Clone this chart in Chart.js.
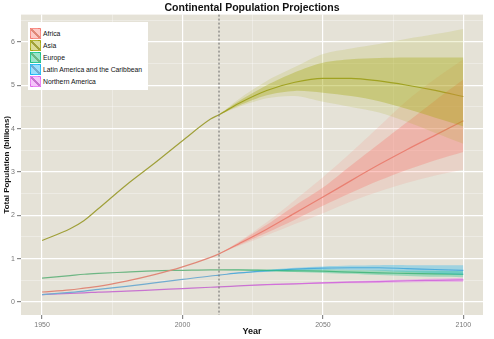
<!DOCTYPE html>
<html>
<head>
<meta charset="utf-8">
<script src="https://cdn.jsdelivr.net/npm/chart.js@4"></script>
<style>
  html, body { margin: 0; padding: 0; background: #fff; }
  #wrap { position: relative; width: 494px; height: 339px; }
  #legend {
    position: absolute; left: 28px; top: 22px; width: 120px; height: 68px;
    background: #fff; font-family: "Liberation Sans", Arial, sans-serif;
    font-size: 6.8px; color: #111; box-sizing: border-box; padding: 5px 0 0 2px;
    white-space: nowrap; overflow: hidden;
  }
  .item { display: flex; align-items: center; height: 12px; }
  .sw { flex: none; width: 11px; height: 11px; margin-right: 2px; box-sizing: border-box; border: 1px solid; }
</style>
</head>
<body>
<div id="wrap">
  <canvas id="chart" width="494" height="339"></canvas>
  <div id="legend"></div>
</div>
<script>
// Data (billions)
const regions = ['Africa', 'Asia', 'Europe', 'Latin America and the Caribbean', 'Northern America'];
const years = [1950, 1960, 1965, 1970, 1980, 1990, 2000, 2010, 2013, 2020, 2030, 2040, 2050, 2060, 2070, 2080, 2090, 2100];

const africa   = [0.23, 0.28, 0.32, 0.36, 0.48, 0.63, 0.81, 1.03, 1.11, 1.34, 1.68, 2.05, 2.42, 2.80, 3.17, 3.52, 3.85, 4.18];
const asia     = [1.42, 1.69, 1.88, 2.15, 2.70, 3.20, 3.72, 4.22, 4.32, 4.58, 4.88, 5.07, 5.16, 5.16, 5.10, 5.00, 4.88, 4.74];
const europe   = [0.55, 0.61, 0.64, 0.66, 0.69, 0.72, 0.73, 0.74, 0.74, 0.74, 0.73, 0.72, 0.71, 0.69, 0.67, 0.66, 0.65, 0.64];
const latinAm  = [0.17, 0.22, 0.25, 0.29, 0.36, 0.44, 0.52, 0.60, 0.62, 0.67, 0.72, 0.76, 0.78, 0.79, 0.79, 0.77, 0.75, 0.73];
const northAm  = [0.17, 0.20, 0.21, 0.23, 0.25, 0.28, 0.31, 0.34, 0.35, 0.37, 0.40, 0.42, 0.44, 0.46, 0.47, 0.49, 0.50, 0.51];

// projection intervals (80% and 95%)
const bandYears = [2013, 2020, 2030, 2040, 2050, 2060, 2070, 2080, 2090, 2100];

const africaHi80 = [1.11, 1.37, 1.78, 2.22, 2.64, 3.15, 3.65, 4.15, 4.65, 5.13];
const africaLo80 = [1.11, 1.31, 1.60, 1.90, 2.22, 2.52, 2.80, 3.05, 3.27, 3.46];
const africaHi95 = [1.11, 1.39, 1.84, 2.35, 2.88, 3.45, 4.05, 4.65, 5.15, 5.60];
const africaLo95 = [1.11, 1.29, 1.54, 1.80, 2.05, 2.32, 2.55, 2.75, 2.92, 3.05];

const asiaHi80 = [4.32, 4.63, 5.00, 5.30, 5.52, 5.60, 5.63, 5.64, 5.64, 5.64];
const asiaLo80 = [4.32, 4.53, 4.77, 4.87, 4.83, 4.75, 4.63, 4.45, 4.25, 4.05];
const asiaHi95 = [4.32, 4.68, 5.10, 5.42, 5.72, 5.85, 5.95, 6.07, 6.18, 6.30];
const asiaLo95 = [4.32, 4.50, 4.70, 4.75, 4.62, 4.50, 4.37, 4.15, 3.90, 3.65];

const europeHi = [0.74, 0.75, 0.75, 0.75, 0.75, 0.74, 0.73, 0.72, 0.72, 0.71];
const europeLo = [0.74, 0.73, 0.71, 0.69, 0.67, 0.65, 0.62, 0.60, 0.58, 0.57];
const latinHi  = [0.62, 0.68, 0.74, 0.79, 0.82, 0.84, 0.85, 0.85, 0.85, 0.85];
const latinLo  = [0.62, 0.66, 0.70, 0.73, 0.74, 0.74, 0.72, 0.69, 0.66, 0.62];
const northHi  = [0.35, 0.37, 0.41, 0.43, 0.46, 0.48, 0.50, 0.52, 0.54, 0.56];
const northLo  = [0.35, 0.37, 0.39, 0.41, 0.42, 0.43, 0.44, 0.45, 0.46, 0.46];

const xTicks = [1950, 2000, 2050, 2100];
const yTicks = [0, 1, 2, 3, 4, 5, 6];
const baseYear = 2013;

const rgb = {
  Africa: '248,118,109',
  Asia: '163,165,0',
  Europe: '0,191,125',
  Latin: '0,176,246',
  North: '231,107,243'
};
const lineColors = ['#e08878', '#a0a03a', '#6db683', '#72acd0', '#c873d0'];

const pts = (xs, ys) => xs.map((x, i) => ({ x: x, y: ys[i] }));

function band(hi, lo, color) {
  return [
    { data: pts(bandYears, hi), fill: '+1', backgroundColor: color, borderWidth: 0, pointRadius: 0, tension: 0.3 },
    { data: pts(bandYears, lo), fill: false, backgroundColor: color, borderWidth: 0, pointRadius: 0, tension: 0.3 }
  ];
}
function line(values, color) {
  return { data: pts(years, values), fill: false, borderColor: color, borderWidth: 1.2, pointRadius: 0, cubicInterpolationMode: 'monotone' };
}

const datasets = [
  ...band(asiaHi95, asiaLo95, 'rgba(' + rgb.Asia + ',0.15)'),
  ...band(asiaHi80, asiaLo80, 'rgba(' + rgb.Asia + ',0.32)'),
  ...band(africaHi95, africaLo95, 'rgba(' + rgb.Africa + ',0.15)'),
  ...band(africaHi80, africaLo80, 'rgba(' + rgb.Africa + ',0.32)'),
  ...band(europeHi, europeLo, 'rgba(' + rgb.Europe + ',0.3)'),
  ...band(latinHi, latinLo, 'rgba(' + rgb.Latin + ',0.3)'),
  ...band(northHi, northLo, 'rgba(' + rgb.North + ',0.35)'),
  line(africa, lineColors[0]),
  line(asia, lineColors[1]),
  line(europe, lineColors[2]),
  line(latinAm, lineColors[3]),
  line(northAm, lineColors[4])
];

const panelBg = {
  id: 'panelBg',
  beforeDraw(chart) {
    const a = chart.chartArea, ctx = chart.ctx;
    ctx.save();
    ctx.fillStyle = '#e5e2d7';
    ctx.fillRect(a.left, a.top, a.right - a.left, a.bottom - a.top);
    ctx.restore();
  }
};

const todayLine = {
  id: 'todayLine',
  afterDatasetsDraw(chart) {
    const x = chart.scales.x.getPixelForValue(baseYear);
    const a = chart.chartArea, ctx = chart.ctx;
    ctx.save();
    ctx.strokeStyle = '#666';
    ctx.lineWidth = 1;
    ctx.setLineDash([2, 2]);
    ctx.beginPath();
    ctx.moveTo(x, a.top);
    ctx.lineTo(x, a.bottom);
    ctx.stroke();
    ctx.restore();
  }
};

const font = "'Liberation Sans', Arial, sans-serif";
Chart.defaults.font.family = font;

new Chart(document.getElementById('chart').getContext('2d'), {
  type: 'line',
  data: { datasets: datasets },
  options: {
    responsive: false,
    animation: false,
    layout: { padding: { left: 0, right: 11, top: 0, bottom: 0 } },
    plugins: {
      legend: { display: false },
      tooltip: { enabled: false },
      title: {
        display: true,
        text: 'Continental Population Projections',
        fullSize: false,
        color: '#111',
        font: { size: 10.5, weight: 'bold' },
        padding: { top: 2, bottom: 0 }
      }
    },
    scales: {
      x: {
        type: 'linear',
        min: 1942.5,
        max: 2107,
        border: { display: false },
        title: { display: true, text: 'Year', color: '#111', font: { size: 9, weight: 'bold' }, padding: { top: 0, bottom: 2 } },
        ticks: {
          stepSize: 25,
          includeBounds: false,
          autoSkip: false,
          maxRotation: 0,
          color: '#777',
          font: { size: 7 },
          padding: 2,
          callback: v => xTicks.includes(v) ? String(v) : ''
        },
        grid: {
          color: c => xTicks.includes(c.tick.value) ? '#ffffff' : 'rgba(255,255,255,0.55)',
          lineWidth: c => xTicks.includes(c.tick.value) ? 1.2 : 0.6,
          tickColor: c => xTicks.includes(c.tick.value) ? '#888' : 'rgba(0,0,0,0)',
          tickLength: 4
        },
        afterFit(scale) { scale.height = 24; }
      },
      y: {
        type: 'linear',
        min: -0.3,
        max: 6.63,
        border: { display: false },
        title: { display: true, text: 'Total Population (billions)', color: '#111', font: { size: 8, weight: 'bold' }, padding: { top: 2, bottom: 0 } },
        ticks: {
          stepSize: 0.5,
          includeBounds: false,
          autoSkip: false,
          color: '#777',
          font: { size: 7 },
          padding: 2,
          callback: v => yTicks.includes(v) ? String(v) : ''
        },
        grid: {
          color: c => yTicks.includes(c.tick.value) ? '#ffffff' : 'rgba(255,255,255,0.55)',
          lineWidth: c => yTicks.includes(c.tick.value) ? 1.2 : 0.6,
          tickColor: c => yTicks.includes(c.tick.value) ? '#888' : 'rgba(0,0,0,0)',
          tickLength: 4
        },
        afterFit(scale) { scale.width = 21; }
      }
    }
  },
  plugins: [panelBg, todayLine]
});

// legend (ggplot style)
const legendRgb = [rgb.Africa, rgb.Asia, rgb.Europe, rgb.Latin, rgb.North];
const legendEl = document.getElementById('legend');
regions.forEach((name, i) => {
  const c = legendRgb[i];
  const item = document.createElement('div');
  item.className = 'item';
  const sw = document.createElement('span');
  sw.className = 'sw';
  sw.style.borderColor = 'rgba(' + c + ',0.7)';
  sw.style.background = 'linear-gradient(to top right, transparent 44%, ' + lineColors[i] + ' 44%, ' + lineColors[i] + ' 56%, transparent 56%), rgba(' + c + ',0.4)';
  const label = document.createElement('span');
  label.textContent = name;
  item.appendChild(sw);
  item.appendChild(label);
  legendEl.appendChild(item);
});
</script>
</body>
</html>
